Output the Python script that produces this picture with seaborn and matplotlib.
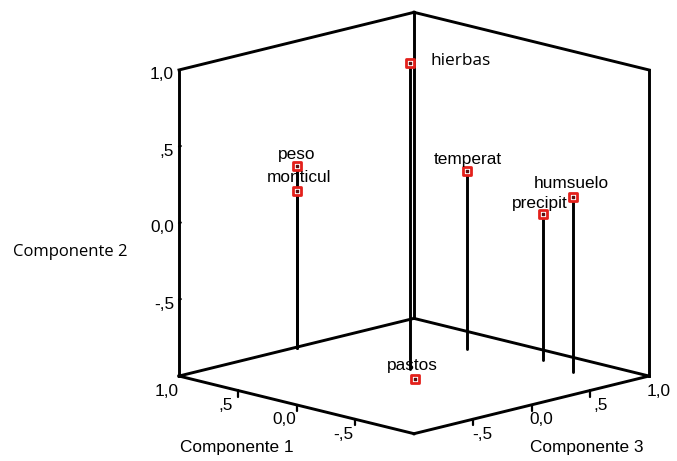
import matplotlib
matplotlib.use("Agg")
import matplotlib.pyplot as plt
import seaborn as sns
import pandas as pd
import numpy as np
from mpl_toolkits.mplot3d import proj3d

# ---- data (component loadings) ----
variables = ["hierbas", "peso", "monticul", "temperat", "humsuelo", "precipit", "pastos"]
comp1 = [0.14, 0.98, 0.98, 0.25, -0.60, -0.28, -0.05]
comp2 = [1.00, 0.19, 0.03, 0.16, 0.14, -0.04, -1.00]
comp3 = [0.11, -0.02, -0.02, 0.70, 0.75, 0.82, -0.04]

tick_values = [-0.5, 0.0, 0.5, 1.0]
tick_labels = ["-,5", "0,0", ",5", "1,0"]
axis_titles = ["Componente 1", "Componente 2", "Componente 3"]

df = pd.DataFrame({"variable": variables, "c1": comp1, "c2": comp2, "c3": comp3})

sns.set_theme(style="white")
plt.rcParams["font.family"] = ["Liberation Sans", "DejaVu Sans"]
plt.rcParams["text.color"] = "black"

FW, FH = 677, 461
fig = plt.figure(figsize=(FW / 100, FH / 100), dpi=100)
fig.patch.set_facecolor("white")
ax = fig.add_axes([0, 0, 1, 1], projection="3d", proj_type="ortho",
                  computed_zorder=False)
lo, hi = -1.0, 1.0
ax.set_xlim(lo, hi); ax.set_ylim(lo, hi); ax.set_zlim(lo, hi)
ax.view_init(elev=14.2, azim=-135)
BOX = (1, 1, 0.95)
ax.set_box_aspect(BOX)
ax.set_axis_off()

# x = Componente 3, y = Componente 1, z = Componente 2
def to_px(x, y, z):
    u, v, _ = proj3d.proj_transform(x, y, z, ax.get_proj())
    return ax.transData.transform((u, v))

def to_uv(x, y, z):
    u, v, _ = proj3d.proj_transform(x, y, z, ax.get_proj())
    return u, v

# --- fit the box into the frame like the reference ---
fig.canvas.draw()
L = to_px(lo, hi, lo); R = to_px(hi, lo, lo)
s = 470.0 / (R[0] - L[0])
ax.set_box_aspect(BOX, zoom=s)
fig.canvas.draw()
L = to_px(lo, hi, lo); R = to_px(hi, lo, lo)
F = to_px(lo, lo, lo); T = to_px(hi, hi, hi)
dx = 414.0 - (L[0] + R[0]) / 2
dy = (FH - 223.0) - (F[1] + T[1]) / 2
ax.set_position([dx / FW, dy / FH, 1, 1])

edge_kw = dict(color="black", lw=2.1, solid_capstyle="projecting", clip_on=False)
# floor
ax.plot([lo, hi], [lo, lo], [lo, lo], **edge_kw)
ax.plot([lo, lo], [lo, hi], [lo, lo], **edge_kw)
ax.plot([lo, hi], [hi, hi], [lo, lo], **edge_kw)
ax.plot([hi, hi], [lo, hi], [lo, lo], **edge_kw)
# verticals
for (xx, yy) in [(lo, hi), (hi, hi), (hi, lo)]:
    ax.plot([xx, xx], [yy, yy], [lo, hi], **edge_kw)
# top
ax.plot([lo, hi], [hi, hi], [hi, hi], **edge_kw)
ax.plot([hi, hi], [lo, hi], [hi, hi], **edge_kw)

# ticks
tick_kw = dict(color="black", lw=1.6, clip_on=False)
for t in tick_values[:-1]:
    ax.plot([lo, lo], [t, t], [lo, lo - 0.04], **tick_kw)   # comp 1
    ax.plot([t, t], [lo, lo], [lo, lo - 0.04], **tick_kw)   # comp 3
    ax.plot([lo, lo + 0.015], [hi, hi], [t, t], **tick_kw)  # comp 2

# drop lines
for _, r in df.iterrows():
    ax.plot([r.c3, r.c3], [r.c1, r.c1], [r.c2, lo], color="black", lw=2.1,
            clip_on=False)

# markers
ax.scatter(df.c3, df.c1, df.c2, marker="s", s=38, facecolors="white",
           edgecolors="#e3201b", linewidths=2.0, depthshade=False, zorder=5,
           clip_on=False)
ax.scatter(df.c3, df.c1, df.c2, marker="s", s=3, c="#5a1010",
           depthshade=False, zorder=6, clip_on=False)

# point labels
label_offsets = {"hierbas": (20, 2, "left"), "peso": (0, 12, "center"),
                 "monticul": (3, 13, "center"), "temperat": (1, 12, "center"),
                 "humsuelo": (-1, 14, "center"), "precipit": (-3, 10, "center"),
                 "pastos": (-3, 13, "center")}
for _, r in df.iterrows():
    ox, oy, ha = label_offsets[r.variable]
    fam = ["Open Sans", "DejaVu Sans"] if r.variable == "hierbas" else ["Liberation Sans", "DejaVu Sans"]
    ax.annotate(r.variable, xy=to_uv(r.c3, r.c1, r.c2), xycoords="data",
                xytext=(ox, oy), textcoords="offset pixels", ha=ha, va="center",
                fontsize=12.4, family=fam, color="black", zorder=7,
                annotation_clip=False)

# tick labels
tk = dict(xycoords="data", textcoords="offset pixels", va="center",
          fontsize=12.4, color="black", annotation_clip=False)
for t, lab in zip(tick_values, tick_labels):
    ax.annotate(lab, xy=to_uv(lo, t, lo), xytext=(-12, -15), ha="center", **tk)
    ax.annotate(lab, xy=to_uv(t, lo, lo), xytext=(10, -15), ha="center", **tk)
    ax.annotate(lab, xy=to_uv(lo, hi, t), xytext=(-5, -5), ha="right", **tk)

# axis titles
fig.text(237 / FW, 1 - 447 / FH, axis_titles[0], ha="center", va="center",
         fontsize=12.4, color="black")
fig.text(587 / FW, 1 - 447 / FH, axis_titles[2], ha="center", va="center",
         fontsize=12.4, color="black")
fig.text(13 / FW, 1 - 252 / FH, axis_titles[1], ha="left", va="center",
         fontsize=12, family=["Open Sans", "DejaVu Sans"], color="black")

fig.savefig("out.png", dpi=100, facecolor="white")
